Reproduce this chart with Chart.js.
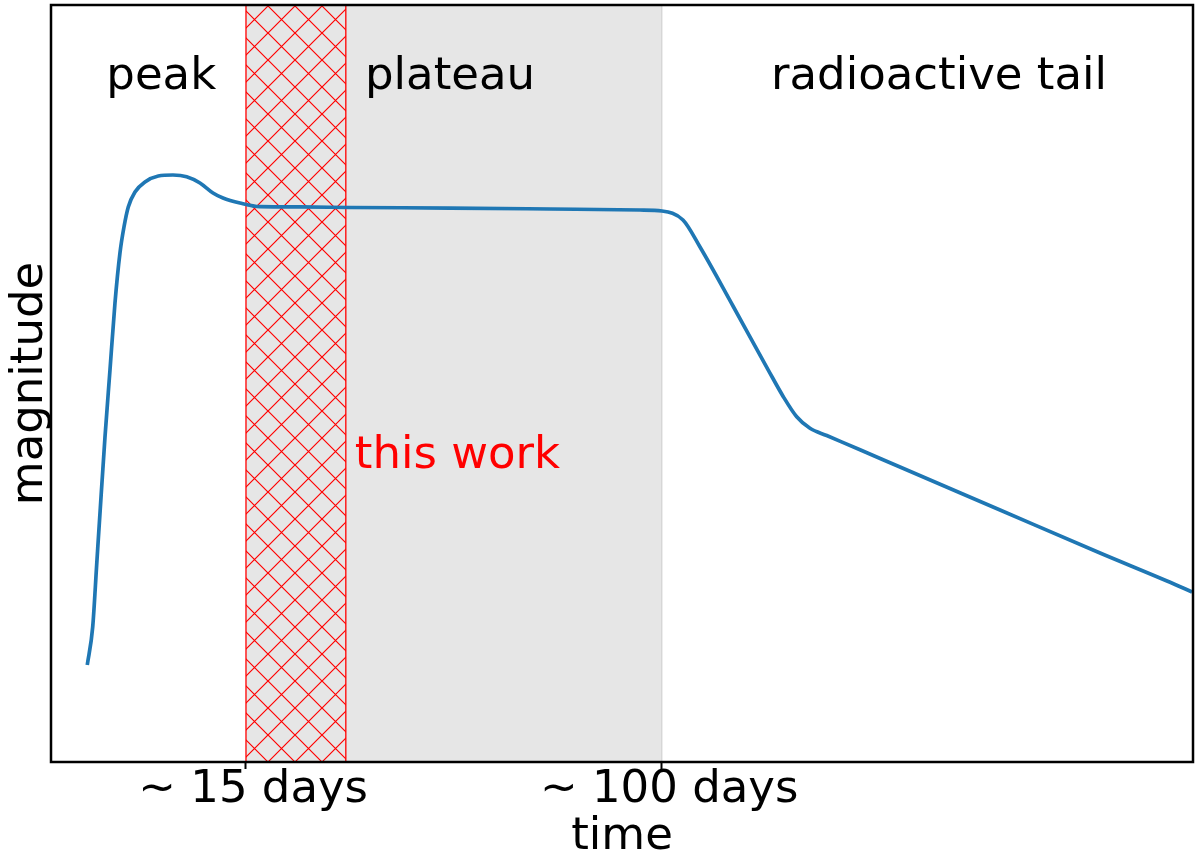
<!DOCTYPE html>
<html>
<head>
<meta charset="utf-8">
<script src="https://cdn.jsdelivr.net/npm/chart.js@4/dist/chart.umd.min.js"></script>
<style>
    html, body { margin: 0; padding: 0; background: #fff; }
</style>
</head>
<body>
<canvas id="lightCurve" width="1200" height="862"></canvas>
<script>
// ========================================
// Light curve sketch: peak / plateau / radioactive tail
// ========================================
const days = [-17.43, -16.32, -15.51, -14.83, -13.81, -12.79, -11.77, -10.75, -9.93, -9.05,
    -7.68, -5.64, -2.92, 0.08, 2.88, 5.60, 8.26, 10.30, 13.77, 17.86,
    26.03, 36.25, 56.68, 77.12, 95.51, 100, 104.29, 107.77, 114.51, 121.72,
    124.79, 127.53, 130.24, 133.66, 140.46, 148.63, 169.07, 189.50, 203.19, 208.30];
const magnitude = [12.81, 17.83, 26.02, 32.89, 42.93, 51.78, 60.63, 67.24, 70.67, 73.32,
    75.30, 76.62, 77.41, 77.54, 77.32, 76.49, 75.17, 74.50, 73.84, 73.36,
    73.32, 73.25, 73.18, 73.05, 72.92, 72.79, 71.60, 68.03, 60.24, 51.78,
    48.26, 45.61, 44.08, 43.13, 41.25, 38.97, 33.29, 27.61, 23.91, 22.46];

const tickDays = [15, 100];
const tickLabels = ['~ 15 days', '~ 100 days'];

const plateauSpan = [15, 100];
const thisWorkSpan = [15, 35.4];

const phaseNames = ['peak', 'plateau', 'radioactive tail'];
const phaseDays = [-2.3, 56.7, 156.6];
const phaseLevel = 88.9;
const workLabel = 'this work';
const workLabelAt = [58.2, 38.8];

const FONT = 'DejaVu Sans';

function hatchPattern(ctx) {
    const size = 27;
    const tile = document.createElement('canvas');
    tile.width = size;
    tile.height = size;
    const t = tile.getContext('2d');
    t.strokeStyle = '#ff0000';
    t.lineWidth = 1.2;
    t.beginPath();
    t.moveTo(0, 0); t.lineTo(size, size);
    t.moveTo(size, 0); t.lineTo(0, size);
    t.stroke();
    const pat = ctx.createPattern(tile, 'repeat');
    pat.setTransform(new DOMMatrix().translate(268 % size, 600 % size));
    return pat;
}

const spansPlugin = {
    id: 'spans',
    beforeDatasetsDraw(chart) {
        const { ctx, chartArea: a, scales: { x } } = chart;
        ctx.save();
        // plateau band
        const p0 = x.getPixelForValue(plateauSpan[0]);
        const p1 = x.getPixelForValue(plateauSpan[1]);
        ctx.fillStyle = 'rgba(128, 128, 128, 0.2)';
        ctx.fillRect(p0, a.top, p1 - p0, a.bottom - a.top);
        ctx.strokeStyle = 'rgba(128, 128, 128, 0.2)';
        ctx.lineWidth = 1.5;
        ctx.beginPath();
        ctx.moveTo(p1, a.top); ctx.lineTo(p1, a.bottom);
        ctx.stroke();

        // hatched "this work" band
        const h0 = x.getPixelForValue(thisWorkSpan[0]);
        const h1 = x.getPixelForValue(thisWorkSpan[1]);
        ctx.fillStyle = hatchPattern(ctx);
        ctx.fillRect(h0, a.top, h1 - h0, a.bottom - a.top);
        ctx.strokeStyle = '#ff0000';
        ctx.lineWidth = 1.3;
        ctx.beginPath();
        ctx.moveTo(h0, a.top); ctx.lineTo(h0, a.bottom);
        ctx.moveTo(h1, a.top); ctx.lineTo(h1, a.bottom);
        ctx.stroke();
        ctx.restore();
    },
    afterDatasetsDraw(chart) {
        const { ctx, scales: { x, y } } = chart;
        ctx.save();
        ctx.font = `45px "${FONT}"`;
        ctx.textAlign = 'center';
        ctx.textBaseline = 'alphabetic';
        ctx.fillStyle = '#000';
        phaseNames.forEach((name, i) => {
            ctx.fillText(name, x.getPixelForValue(phaseDays[i]), y.getPixelForValue(phaseLevel));
        });
        ctx.fillStyle = '#ff0000';
        ctx.fillText(workLabel, x.getPixelForValue(workLabelAt[0]), y.getPixelForValue(workLabelAt[1]));
        ctx.restore();
    },
    afterDraw(chart) {
        const { ctx, chartArea: a } = chart;
        ctx.save();
        ctx.strokeStyle = '#000';
        ctx.lineWidth = 2.5;
        ctx.strokeRect(a.left, a.top, a.right - a.left, a.bottom - a.top);
        ctx.restore();
    }
};

new Chart(document.getElementById('lightCurve'), {
    type: 'line',
    data: {
        datasets: [{
            data: days.map((d, i) => ({ x: d, y: magnitude[i] })),
            borderColor: '#1f77b4',
            borderWidth: 3.7,
            pointRadius: 0,
            fill: false,
            cubicInterpolationMode: 'monotone'
        }]
    },
    options: {
        responsive: false,
        animation: false,
        devicePixelRatio: 1,
        layout: { padding: { left: 0, right: 7, top: 5, bottom: 0 } },
        plugins: {
            legend: { display: false },
            tooltip: { enabled: false }
        },
        scales: {
            x: {
                type: 'linear',
                min: -24.84,
                max: 208.5,
                afterBuildTicks: (s) => { s.ticks = tickDays.map(v => ({ value: v })); },
                afterFit: (s) => { s.height = 100; },
                ticks: {
                    autoSkip: false,
                    maxRotation: 0,
                    padding: -1,
                    color: '#000',
                    font: { family: FONT, size: 45, lineHeight: 1 },
                    callback: (v, i) => '\u00a0' + tickLabels[i]
                },
                grid: {
                    display: true,
                    drawOnChartArea: false,
                    drawTicks: true,
                    tickLength: 7,
                    tickColor: '#000',
                    tickWidth: 2
                },
                border: { display: false },
                title: {
                    display: true,
                    text: 'time',
                    color: '#000',
                    font: { family: FONT, size: 45, lineHeight: 1 },
                    padding: { top: 0, bottom: 2 }
                }
            },
            y: {
                min: 0,
                max: 100,
                afterFit: (s) => { s.width = 51; },
                ticks: { display: false },
                grid: { display: false },
                border: { display: false },
                title: {
                    display: true,
                    text: 'magnitude',
                    color: '#000',
                    font: { family: FONT, size: 45, lineHeight: 1 },
                    padding: { top: 8, bottom: 0 }
                }
            }
        }
    },
    plugins: [spansPlugin]
});
</script>
</body>
</html>
